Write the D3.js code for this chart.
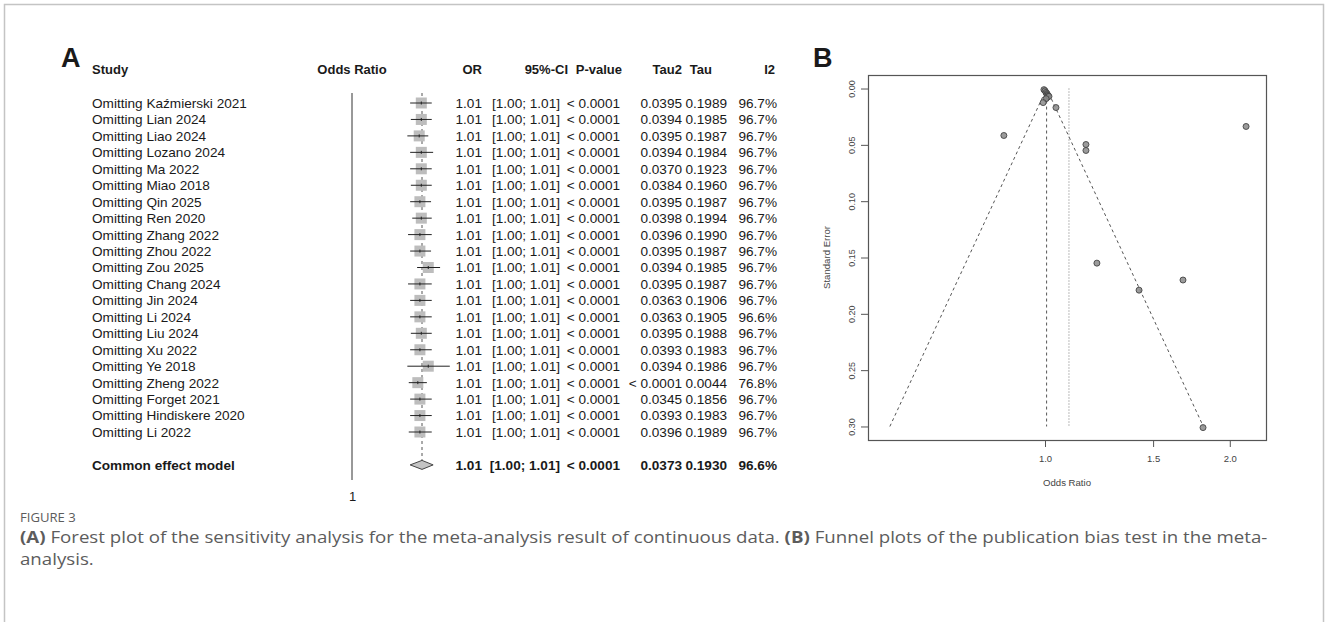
<!DOCTYPE html>
<html>
<head>
<meta charset="utf-8">
<script src="https://cdn.jsdelivr.net/npm/d3@7"></script>
<style>
	body { margin: 0; background: #fff; }
	svg { display: block; }
</style>
</head>
<body>
<div id="fig"></div>
<script>
// sensitivity analysis (leave-one-out), panel A
var studies = ["Omitting Kaźmierski 2021", "Omitting Lian 2024", "Omitting Liao 2024", "Omitting Lozano 2024",
	"Omitting Ma 2022", "Omitting Miao 2018", "Omitting Qin 2025", "Omitting Ren 2020", "Omitting Zhang 2022",
	"Omitting Zhou 2022", "Omitting Zou 2025", "Omitting Chang 2024", "Omitting Jin 2024", "Omitting Li 2024",
	"Omitting Liu 2024", "Omitting Xu 2022", "Omitting Ye 2018", "Omitting Zheng 2022", "Omitting Forget 2021",
	"Omitting Hindiskere 2020", "Omitting Li 2022"];
var orEst = [1.0099, 1.0099, 1.0096, 1.0099, 1.0099, 1.0099, 1.0097, 1.0099, 1.0097, 1.0097, 1.0109,
	1.0097, 1.0097, 1.0097, 1.0099, 1.0097, 1.0109, 1.0094, 1.0097, 1.0097, 1.0097];
var ciLo = [1.0083, 1.0084, 1.0079, 1.0083, 1.0083, 1.0084, 1.0083, 1.0086, 1.0080, 1.0083, 1.0093,
	1.0080, 1.0083, 1.0083, 1.0084, 1.0083, 1.0079, 1.0081, 1.0083, 1.0083, 1.0081];
var ciHi = [1.0114, 1.0114, 1.0109, 1.0116, 1.0114, 1.0114, 1.0113, 1.0114, 1.0114, 1.0113, 1.0126,
	1.0114, 1.0114, 1.0114, 1.0114, 1.0114, 1.0140, 1.0107, 1.0114, 1.0114, 1.0114];
var orText = "1.01", ciText = "[1.00; 1.01]", pText = "< 0.0001";
var tau2 = ["0.0395", "0.0394", "0.0395", "0.0394", "0.0370", "0.0384", "0.0395", "0.0398", "0.0396", "0.0395",
	"0.0394", "0.0395", "0.0363", "0.0363", "0.0395", "0.0393", "0.0394", "< 0.0001", "0.0345", "0.0393", "0.0396"];
var tau = ["0.1989", "0.1985", "0.1987", "0.1984", "0.1923", "0.1960", "0.1987", "0.1994", "0.1990", "0.1987",
	"0.1985", "0.1987", "0.1906", "0.1905", "0.1988", "0.1983", "0.1986", "0.0044", "0.1856", "0.1983", "0.1989"];
var i2 = ["96.7%", "96.7%", "96.7%", "96.7%", "96.7%", "96.7%", "96.7%", "96.7%", "96.7%", "96.7%", "96.7%",
	"96.7%", "96.7%", "96.6%", "96.7%", "96.7%", "96.7%", "76.8%", "96.7%", "96.7%", "96.7%"];
var pooled = {or: 1.0100, lo: 1.0083, hi: 1.0116, tau2: "0.0373", tau: "0.1930", i2: "96.6%"};
var forestTicks = [1];

// funnel plot, panel B
var funnelOR = [0.996, 1.000, 1.004, 1.0075, 1.0075, 1.011, 1.011, 1.0075, 1.015, 1.004, 0.993, 1.042,
	0.857, 2.126, 1.166, 1.166, 1.215, 1.678, 1.423, 1.809];
var funnelSE = [0.001, 0.002, 0.0035, 0.0045, 0.0055, 0.006, 0.007, 0.008, 0.007, 0.009, 0.0125, 0.0169,
	0.0417, 0.0337, 0.0497, 0.0550, 0.155, 0.170, 0.179, 0.301];
var funnelCommon = 1.006, funnelRandom = 1.094;
var seTicks = [0, 0.05, 0.10, 0.15, 0.20, 0.25, 0.30];
var orTicks = [1.0, 1.5, 2.0];

var W = 1328, H = 622;
var font = "'Liberation Sans', Arial, sans-serif";

var svg = d3.select("#fig").append("svg")
		.attr("width", W)
		.attr("height", H);

// outer frame (top, left, right)
svg.append("path")
		.attr("d", "M4.5,622V4.5H1323.5V622")
		.attr("fill", "none")
		.attr("stroke", "#c4c4c4")
		.attr("stroke-width", 1.5);

// ---------- A: forest ----------
var fx = d3.scaleLog()
		.domain([1, 1.01])
		.range([352, 422]);
var fy = d3.scaleLinear()
		.domain([0, 20])
		.range([103, 432]);
var yPooled = fy(22);

var A = svg.append("g")
		.attr("font-family", font)
		.attr("fill", "#1a1a1a");

A.append("text")
		.attr("x", 61).attr("y", 67)
		.attr("font-size", 27).attr("font-weight", "bold")
		.text("A");

var header = [
	{t: "Study", x: 92, a: "start"},
	{t: "Odds Ratio", x: 352, a: "middle"},
	{t: "OR", x: 482, a: "end"},
	{t: "95%-CI", x: 568, a: "end"},
	{t: "P-value", x: 622, a: "end"},
	{t: "Tau2", x: 682, a: "end"},
	{t: "Tau", x: 712, a: "end"},
	{t: "I2", x: 775, a: "end"}
];
A.selectAll(".hd")
		.data(header)
	.enter().append("text")
		.attr("class", "hd")
		.attr("x", d => d.x)
		.attr("y", 74)
		.attr("text-anchor", d => d.a)
		.attr("font-size", 13)
		.attr("font-weight", "bold")
		.text(d => d.t);

// reference line at OR = 1
A.append("line")
		.attr("x1", fx(1)).attr("x2", fx(1))
		.attr("y1", 93).attr("y2", 480)
		.attr("stroke", "#333")
		.attr("stroke-width", 1);

// pooled estimate line
A.append("line")
		.attr("x1", fx(pooled.or)).attr("x2", fx(pooled.or))
		.attr("y1", 93).attr("y2", yPooled - 5)
		.attr("stroke", "#555")
		.attr("stroke-dasharray", "3,3")
		.attr("stroke-width", 1);

var rows = studies.map((s, i) => ({
	study: s, or: orEst[i], lo: ciLo[i], hi: ciHi[i],
	tau2: tau2[i], tau: tau[i], i2: i2[i], y: fy(i)
}));

var sq = 11;
A.selectAll(".box")
		.data(rows)
	.enter().append("rect")
		.attr("class", "box")
		.attr("x", d => fx(d.or) - sq / 2)
		.attr("y", d => d.y - sq / 2)
		.attr("width", sq).attr("height", sq)
		.attr("fill", "#bdbdbd");

A.selectAll(".ci")
		.data(rows)
	.enter().append("line")
		.attr("class", "ci")
		.attr("x1", d => fx(d.lo)).attr("x2", d => fx(d.hi))
		.attr("y1", d => d.y).attr("y2", d => d.y)
		.attr("stroke", "#222")
		.attr("stroke-width", 1);

A.selectAll(".est")
		.data(rows)
	.enter().append("line")
		.attr("class", "est")
		.attr("x1", d => fx(d.or)).attr("x2", d => fx(d.or))
		.attr("y1", d => d.y - 1.5).attr("y2", d => d.y + 1.5)
		.attr("stroke", "#222")
		.attr("stroke-width", 1);

// pooled diamond
A.append("path")
		.attr("d", `M${fx(pooled.lo)},${yPooled}L${fx(pooled.or)},${yPooled - 4.5}L${fx(pooled.hi)},${yPooled}L${fx(pooled.or)},${yPooled + 4.5}Z`)
		.attr("fill", "#c4c4c4")
		.attr("stroke", "#444")
		.attr("stroke-width", 1);

var cols = [
	{k: "study", x: 92, a: "start"},
	{k: "ortxt", x: 482, a: "end"},
	{k: "citxt", x: 560, a: "end"},
	{k: "ptxt", x: 620, a: "end"},
	{k: "tau2", x: 682, a: "end"},
	{k: "tau", x: 727, a: "end"},
	{k: "i2", x: 777, a: "end"}
];
var tableRows = rows.map(r => Object.assign({ortxt: orText, citxt: ciText, ptxt: pText, bold: false}, r));
tableRows.push({study: "Common effect model", ortxt: orText, citxt: ciText, ptxt: pText,
	tau2: pooled.tau2, tau: pooled.tau, i2: pooled.i2, y: yPooled, bold: true});

var tr = A.selectAll(".row")
		.data(tableRows)
	.enter().append("g")
		.attr("class", "row")
		.attr("transform", d => `translate(0,${d.y})`)
		.attr("font-weight", d => d.bold ? "bold" : "normal");

tr.selectAll("text")
		.data(d => cols.map(c => ({t: d[c.k], x: c.x, a: c.a})))
	.enter().append("text")
		.attr("x", d => d.x)
		.attr("dy", "0.36em")
		.attr("text-anchor", d => d.a)
		.attr("font-size", 13.6)
		.text(d => d.t);

var fAxis = d3.axisBottom(fx)
		.tickValues(forestTicks)
		.tickSize(0)
		.tickPadding(0)
		.tickFormat(d3.format("d"));
A.append("g")
		.attr("transform", "translate(0,492)")
		.call(fAxis)
		.call(g => g.select(".domain").remove())
		.call(g => g.selectAll("text")
			.attr("font-family", font)
			.attr("font-size", 13)
			.attr("fill", "#1a1a1a"));

// ---------- B: funnel ----------
var bx = d3.scaleLog()
		.domain([0.5148, 2.291])
		.range([868, 1266]);
var by = d3.scaleLinear()
		.domain([-0.012, 0.312])
		.range([75, 440]);

var B = svg.append("g")
		.attr("font-family", font);

B.append("text")
		.attr("x", 813).attr("y", 67)
		.attr("font-size", 27).attr("font-weight", "bold")
		.attr("fill", "#1a1a1a")
		.text("B");

var seMax = seTicks[seTicks.length - 1];
var z = 1.96;
var funnel = [
	[funnelCommon * Math.exp(-z * seMax), seMax],
	[funnelCommon, 0],
	[funnelCommon * Math.exp(z * seMax), seMax]
];
var line = d3.line()
		.x(d => bx(d[0]))
		.y(d => by(d[1]));

B.append("path")
		.attr("d", line(funnel))
		.attr("fill", "none")
		.attr("stroke", "#555")
		.attr("stroke-dasharray", "3,3")
		.attr("stroke-width", 1);

B.append("line")
		.attr("x1", bx(funnelCommon)).attr("x2", bx(funnelCommon))
		.attr("y1", by(0)).attr("y2", by(seMax))
		.attr("stroke", "#555")
		.attr("stroke-dasharray", "3,3");

B.append("line")
		.attr("x1", bx(funnelRandom)).attr("x2", bx(funnelRandom))
		.attr("y1", by(0)).attr("y2", by(seMax))
		.attr("stroke", "#777")
		.attr("stroke-dasharray", "1,2");

B.selectAll(".pt")
		.data(funnelOR.map((o, i) => ({or: o, se: funnelSE[i]})))
	.enter().append("circle")
		.attr("class", "pt")
		.attr("cx", d => bx(d.or))
		.attr("cy", d => by(d.se))
		.attr("r", 3)
		.attr("fill", "#8a8a8a")
		.attr("fill-opacity", 0.85)
		.attr("stroke", "#444")
		.attr("stroke-width", 0.9);

// plot frame
B.append("rect")
		.attr("x", bx.range()[0] + 0.5).attr("y", by.range()[0] + 0.5)
		.attr("width", bx.range()[1] - bx.range()[0])
		.attr("height", by.range()[1] - by.range()[0])
		.attr("fill", "none")
		.attr("stroke", "#555")
		.attr("stroke-width", 1.2);

var yAxis = d3.axisLeft(by)
		.tickValues(seTicks)
		.tickSize(7)
		.tickFormat(d3.format(".2f"));
B.append("g")
		.attr("transform", `translate(${bx.range()[0]},0)`)
		.call(yAxis)
		.call(g => g.select(".domain").remove())
		.call(g => g.selectAll(".tick line").attr("stroke", "#555"))
		.call(g => g.selectAll(".tick text")
			.attr("font-family", font)
			.attr("font-size", 9)
			.attr("fill", "#444")
			.attr("x", 0).attr("dy", 0)
			.attr("text-anchor", "middle")
			.attr("transform", "translate(-13,0) rotate(-90)"));

var xAxis = d3.axisBottom(bx)
		.tickValues(orTicks)
		.tickSize(7)
		.tickPadding(8)
		.tickFormat(d3.format(".1f"));
B.append("g")
		.attr("transform", `translate(0,${by.range()[1]})`)
		.call(xAxis)
		.call(g => g.select(".domain").remove())
		.call(g => g.selectAll(".tick line").attr("stroke", "#555"))
		.call(g => g.selectAll(".tick text")
			.attr("font-family", font)
			.attr("font-size", 9.5)
			.attr("fill", "#444"));

B.append("text")
		.attr("x", (bx.range()[0] + bx.range()[1]) / 2)
		.attr("y", 486)
		.attr("text-anchor", "middle")
		.attr("font-size", 9.6)
		.attr("fill", "#444")
		.text("Odds Ratio");

B.append("text")
		.attr("transform", `translate(830,${(by.range()[0] + by.range()[1]) / 2}) rotate(-90)`)
		.attr("text-anchor", "middle")
		.attr("font-size", 9.6)
		.attr("fill", "#444")
		.text("Standard Error");

// ---------- caption ----------
var cap = svg.append("g")
		.attr("font-family", "'Open Sans', 'Noto Sans', sans-serif")
		.attr("fill", "#5c5c5c");

cap.append("text")
		.attr("transform", "translate(20,522) scale(1.05,1)")
		.attr("font-size", 12.5)
		.text("FIGURE 3");

// the published caption is set in a wide face; stretch to the same measure
var line1 = cap.append("text")
		.attr("transform", "translate(20,543) scale(1.205,1)")
		.attr("font-size", 15.5);
line1.append("tspan").attr("font-weight", "bold").text("(A)");
line1.append("tspan").text(" Forest plot of the sensitivity analysis for the meta-analysis result of continuous data. ");
line1.append("tspan").attr("font-weight", "bold").text("(B)");
line1.append("tspan").text(" Funnel plots of the publication bias test in the meta-");

cap.append("text")
		.attr("transform", "translate(20,565) scale(1.205,1)")
		.attr("font-size", 15.5)
		.text("analysis.");
</script>
</body>
</html>
